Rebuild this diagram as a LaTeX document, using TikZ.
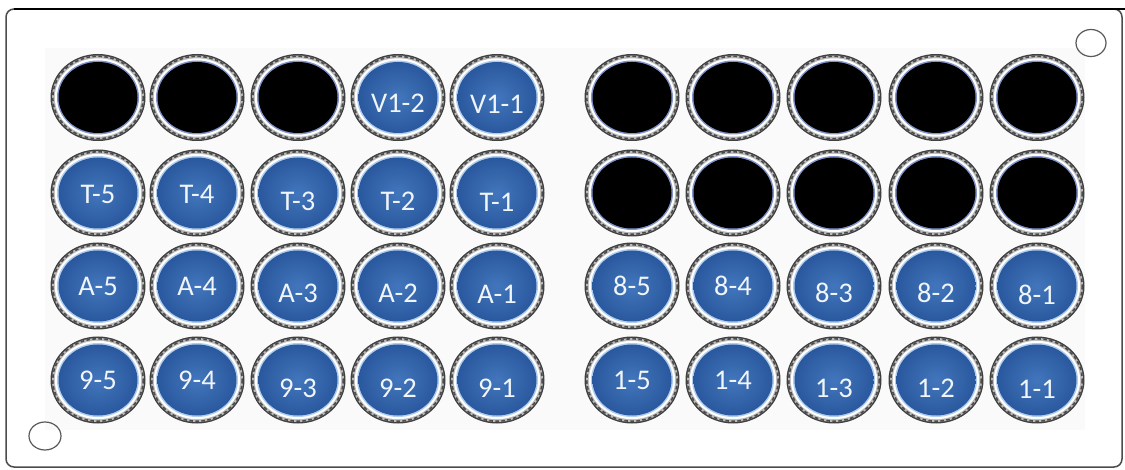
\documentclass[tikz,border=0pt]{standalone}
\usepackage{fontspec}
\setmainfont{Carlito}
\definecolor{wblueL}{RGB}{66,118,188}
\definecolor{wblueD}{RGB}{42,88,158}
\definecolor{wring}{RGB}{175,205,238}
\definecolor{kring}{RGB}{130,150,205}
\definecolor{wtext}{RGB}{240,245,250}
\tikzset{
  welltext/.style={anchor=base, text=wtext, inner sep=0pt, font=\fontsize{28.5}{32}\selectfont},
  minihole/.style={draw=black!65, line width=1.2pt}
}
% #1 name, #2 x, #3 y, #4 inner kind (b = blue, k = black), #5 label, #6 label dy
\newcommand\mywell[6]{%
  \fill[black!75] (#2,#3) ellipse [x radius=47.5, y radius=43.5];
  \fill[gray!55] (#2,#3) ellipse [x radius=46, y radius=42];
  \draw[black!70, line width=1.6pt, dash pattern=on 3.5pt off 2.5pt] (#2,#3) ellipse [x radius=45.2, y radius=41.2];
  \fill[white] (#2,#3) ellipse [x radius=43.2, y radius=39.2];
  \if#4b
    \fill[wring] (#2,#3) ellipse [x radius=41, y radius=37];
    \shade[inner color=wblueL, outer color=wblueD] (#2,#3) ellipse [x radius=39.5, y radius=35.5];
  \else
    \fill[kring] (#2,#3) ellipse [x radius=41, y radius=37];
    \fill[black] (#2,#3) ellipse [x radius=39.5, y radius=35.5];
  \fi
  \coordinate (#1) at (#2,#3);
  \node[welltext] (#1-t) at (#2,#3+#6) {#5};
}
\begin{document}
\begin{tikzpicture}[x=1pt,y=-1pt]
\useasboundingbox (0,0) rectangle (1125,470);
\fill[white] (0,0) rectangle (1125,470);
\fill[gray!4] (45,48) rectangle (1085,430);
\draw[black!70, line width=1.5pt, rounded corners=8pt] (6,9) rectangle (1122,467);
\draw[black, line width=2.6pt] (14,9) -- (1125,9);
\draw[minihole] (1091,43) ellipse [x radius=15, y radius=13.5];
\draw[minihole] (45,436) ellipse [x radius=16, y radius=14];
% row 1
\mywell{w11}{98}{97.5}{k}{}{10}
\mywell{w12}{197}{97.5}{k}{}{10}
\mywell{w13}{298}{97.5}{k}{}{17}
\mywell{w14}{398}{97.5}{b}{V1-2}{15}
\mywell{w15}{497}{97.5}{b}{V1-1}{16}
\mywell{w16}{632}{97.5}{k}{}{10}
\mywell{w17}{733}{97.5}{k}{}{10}
\mywell{w18}{834}{97.5}{k}{}{17}
\mywell{w19}{936}{97.5}{k}{}{17}
\mywell{w110}{1037}{97.5}{k}{}{18}
% row 2
\mywell{w21}{98}{193}{b}{T-5}{11}
\mywell{w22}{197}{193}{b}{T-4}{11}
\mywell{w23}{298}{193}{b}{T-3}{18}
\mywell{w24}{398}{193}{b}{T-2}{18}
\mywell{w25}{497}{193}{b}{T-1}{19}
\mywell{w26}{632}{193}{k}{}{10}
\mywell{w27}{733}{193}{k}{}{10}
\mywell{w28}{834}{193}{k}{}{17}
\mywell{w29}{936}{193}{k}{}{17}
\mywell{w210}{1037}{193}{k}{}{18}
% row 3
\mywell{w31}{98}{286}{b}{A-5}{10}
\mywell{w32}{197}{286}{b}{A-4}{10}
\mywell{w33}{298}{286}{b}{A-3}{17}
\mywell{w34}{398}{286}{b}{A-2}{17}
\mywell{w35}{497}{286}{b}{A-1}{18}
\mywell{w36}{632}{286}{b}{8-5}{10}
\mywell{w37}{733}{286}{b}{8-4}{10}
\mywell{w38}{834}{286}{b}{8-3}{17}
\mywell{w39}{936}{286}{b}{8-2}{17}
\mywell{w310}{1037}{286}{b}{8-1}{19}
% row 4
\mywell{w41}{98}{380}{b}{9-5}{10}
\mywell{w42}{197}{380}{b}{9-4}{10}
\mywell{w43}{298}{380}{b}{9-3}{17}
\mywell{w44}{398}{380}{b}{9-2}{17}
\mywell{w45}{497}{380}{b}{9-1}{18}
\mywell{w46}{632}{380}{b}{1-5}{10}
\mywell{w47}{733}{380}{b}{1-4}{10}
\mywell{w48}{834}{380}{b}{1-3}{17}
\mywell{w49}{936}{380}{b}{1-2}{17}
\mywell{w410}{1037}{380}{b}{1-1}{19}
\end{tikzpicture}
\end{document}
